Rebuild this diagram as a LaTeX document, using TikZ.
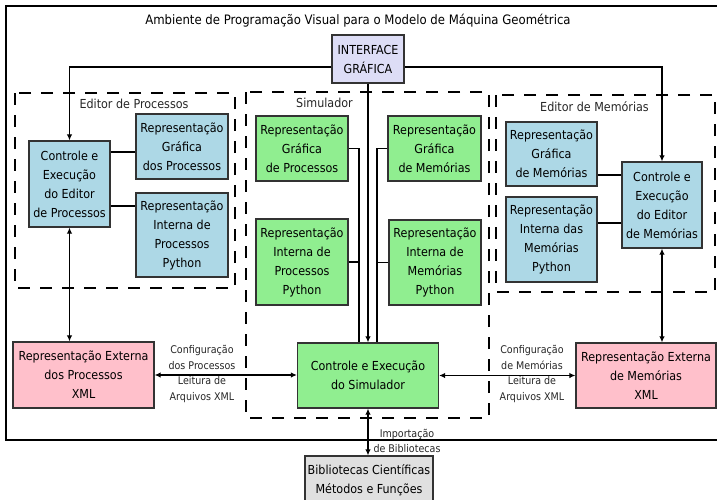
\documentclass[tikz,border=0pt]{standalone}
\usepackage{fontspec}
\setmainfont{DejaVu Sans Condensed}
\usepackage{tikz}
\usetikzlibrary{arrows.meta}
\definecolor{guifill}{HTML}{DDDDF6}
\definecolor{edblue}{HTML}{ADD8E6}
\definecolor{simgreen}{HTML}{90EE90}
\definecolor{xmlpink}{HTML}{FFC0CB}
\definecolor{libgray}{HTML}{E0E0E0}

\begin{document}
\begin{tikzpicture}[x=1pt,y=-1pt,
    >={Latex[length=6pt,width=5.5pt]},
    basebox/.style={draw=black!80, line width=1.3pt, align=center, inner sep=0pt,
        font=\fontsize{12.4}{19}\selectfont},
    edbox/.style={basebox, fill=edblue},
    simbox/.style={basebox, fill=simgreen},
    xmlbox/.style={basebox, fill=xmlpink},
    dashgroup/.style={line width=1.4pt, dash pattern=on 12pt off 10pt},
    wire/.style={line width=1.1pt},
    grouplabel/.style={font=\fontsize{12.4}{14}\selectfont, text=black!85},
    notetext/.style={font=\fontsize{10.6}{15.4}\selectfont, align=center, text=black!85}]
                \useasboundingbox (0,0) rectangle (717,499);
                \clip (0,0) rectangle (717,499);

                % Frame
                \draw[line width=1.8pt] (6,6) rectangle (722,440);
                \node[font=\fontsize{13}{15}\selectfont] (title) at (358,21)
                    {Ambiente de Programação Visual para o Modelo de Máquina Geométrica};

                % Interface
                \node[basebox, fill=guifill, minimum width=72pt, minimum height=48pt] (gui) at (368,59) {INTERFACE\\GRÁFICA};

                % Editor de Processos
                \draw[dashgroup] (15,93) rectangle (235,288);
                \node[grouplabel] (edplabel) at (134,104) {Editor de Processos};
                \node[edbox, minimum width=81pt, minimum height=86pt] (ctlp) at (69.5,184) {Controle e\\Execução\\do Editor\\de Processos};
                \node[edbox, minimum width=92pt, minimum height=65pt] (grp) at (182,146.5) {Representação\\Gráfica\\dos Processos};
                \node[edbox, minimum width=92pt, minimum height=84pt] (inp) at (182,235) {Representação\\Interna de\\Processos\\Python};

                % Simulador
                \draw[dashgroup] (246,92) rectangle (489,418);
                \node[grouplabel] (simlabel) at (324.5,103) {Simulador};
                \node[simbox, minimum width=92pt, minimum height=65pt] (sgp) at (302,148.5) {Representação\\Gráfica\\de Processos};
                \node[simbox, minimum width=92pt, minimum height=86pt] (sip) at (302,262) {Representação\\Interna de\\Processos\\Python};
                \node[simbox, minimum width=93pt, minimum height=65pt] (sgm) at (434.5,148.5) {Representação\\Gráfica\\de Memórias};
                \node[simbox, minimum width=92pt, minimum height=85pt] (sim) at (435,262.5) {Representação\\Interna de\\Memórias\\Python};
                \node[simbox, minimum width=141pt, minimum height=65pt] (ctls) at (368,375.5) {Controle e Execução\\do Simulador};

                % Editor de Memorias
                \draw[dashgroup] (496,95) rectangle (715,292);
                \node[grouplabel] (edmlabel) at (594.5,107) {Editor de Memórias};
                \node[edbox, minimum width=91pt, minimum height=64pt] (rgm) at (551.5,154) {Representação\\Gráfica\\de Memórias};
                \node[edbox, minimum width=91pt, minimum height=85pt] (rim) at (551.5,239.5) {Representação\\Interna das\\Memórias\\Python};
                \node[edbox, minimum width=80pt, minimum height=86pt] (ctlm) at (662,205) {Controle e\\Execução\\do Editor\\de Memórias};

                % XML
                \node[xmlbox, minimum width=141pt, minimum height=66pt] (xmlp) at (83.5,375) {Representação Externa\\dos Processos\\XML};
                \node[xmlbox, minimum width=140pt, minimum height=65pt] (xmlm) at (646,375.5) {Representação Externa\\de Memórias\\XML};

                % Bibliotecas
                \node[basebox, fill=libgray, minimum width=128pt, minimum height=49pt] (lib) at (369,480.5) {Bibliotecas Científicas\\Métodos e Funções};

                % Links from the interface
                \draw[wire, ->] ([yshift=-8pt]gui.west) -| (ctlp.north);
                \draw[wire, ->] ([yshift=-8pt]gui.east) -| (ctlm.north);
                \draw[wire, ->] (gui.south) -- (ctls.north);

                % Links inside the editors
                \draw[wire] ([yshift=-5.5pt]grp.west) -- ([yshift=-5.5pt]grp.west -| ctlp.east);
                \draw[wire] ([yshift=-22pt]ctlp.east) -- ([yshift=-22pt]ctlp.east -| inp.west);
                \draw[wire] ([yshift=30pt]ctlm.west) -- ([yshift=30pt]ctlm.west -| rgm.east);
                \draw[wire] ([yshift=-18pt]ctlm.west) -- ([yshift=-18pt]ctlm.west -| rim.east);

                % Links inside the simulator
                \draw[wire] (sgp.east) -| ([xshift=-9pt]ctls.north);
                \draw[wire] (sip.east) -| ([xshift=-9pt]ctls.north);
                \draw[wire] (sgm.west) -| ([xshift=9pt]ctls.north);
                \draw[wire] (sim.west) -| ([xshift=9pt]ctls.north);

                % XML files
                \draw[wire, <->] (ctlp.south) -- (ctlp.south |- xmlp.north);
                \draw[wire, <->] (ctlm.south) -- (ctlm.south |- xmlm.north);
                \draw[wire, <->] (xmlp.east) -- (xmlp.east -| ctls.west);
                \draw[wire, <->] (ctls.east) -- (ctls.east -| xmlm.west);
                \node[notetext] (cfgp) at (202,374) {Configuração\\dos Processos\\Leitura de\\Arquivos XML};
                \node[notetext] (cfgm) at (532,374) {Configuração\\de Memórias\\Leitura de\\Arquivos XML};

                % Libraries
                \draw[wire, <->] (ctls.south) -- (ctls.south |- lib.north);
                \node[notetext] (imp) at (407,441) {Importação\\de Bibliotecas};
            \end{tikzpicture}
\end{document}
